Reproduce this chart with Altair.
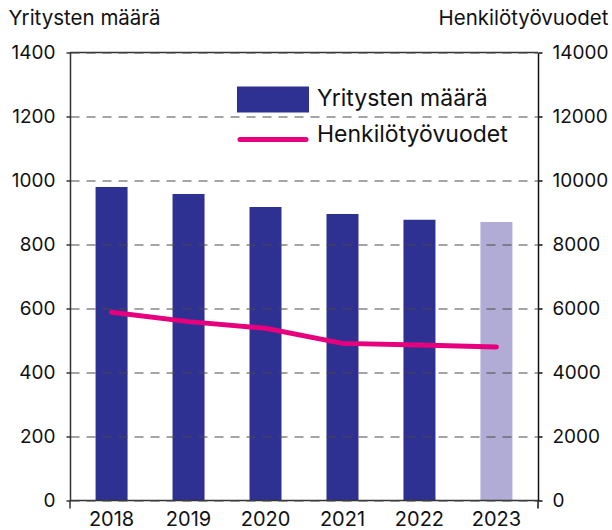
import altair as alt
import pandas as pd

vuodet = ["2018", "2019", "2020", "2021", "2022", "2023"]
yritysten_maara = [980, 958, 917, 895, 877, 870]
henkilotyovuodet = [5880, 5590, 5380, 4910, 4860, 4800]

legend_labels = ["Yritysten määrä", "Henkilötyövuodet"]

FONT = "Inter"
W, H = 468, 448

df = pd.DataFrame({"vuosi": vuodet, "yritykset": yritysten_maara, "htv": henkilotyovuodet})

x_enc = alt.X("vuosi:N", sort=vuodet,
              scale=alt.Scale(paddingInner=0, paddingOuter=0.04),
              axis=alt.Axis(title=None, labelAngle=0, ticks=False, domain=False,
                            labelFont=FONT, labelFontSize=20, labelColor="#111",
                            labelPadding=9, grid=False))

bars = alt.Chart(df).mark_bar(size=32).encode(
    x=x_enc,
    y=alt.Y("yritykset:Q",
            scale=alt.Scale(domain=[0, 1400], nice=False),
            axis=alt.Axis(values=[0, 200, 400, 600, 800, 1000, 1200, 1400], format="d",
                          title="Yritysten määrä", titleAngle=0, titleAlign="left",
                          titleBaseline="alphabetic", titleX=-62, titleY=-28,
                          titleFont=FONT, titleFontSize=20.5, titleFontWeight="normal",
                          titleColor="#111",
                          labelFont=FONT, labelFontSize=19, labelColor="#111",
                          labelPadding=11, tickSize=4, tickColor="#333", tickWidth=1.5,
                          domainColor="#333", domainWidth=1.5,
                          grid=True, gridDash=[9, 7], gridColor="#4a4a4a", gridWidth=1.2,
                          zindex=1)),
    color=alt.condition(alt.datum.vuosi == "2023", alt.value("#B0ACD6"), alt.value("#2E3192")),
)

line = alt.Chart(df).mark_line(color="#E6007E", strokeWidth=5, strokeCap="round").encode(
    x=alt.X("vuosi:N", sort=vuodet),
    y=alt.Y("htv:Q",
            scale=alt.Scale(domain=[0, 14000], nice=False),
            axis=alt.Axis(orient="right", format="d",
                          values=[0, 2000, 4000, 6000, 8000, 10000, 12000, 14000],
                          title="Henkilötyövuodet", titleAngle=0, titleAlign="right",
                          titleBaseline="alphabetic", titleX=70, titleY=-28,
                          titleFont=FONT, titleFontSize=20.5, titleFontWeight="normal",
                          titleColor="#111",
                          labelFont=FONT, labelFontSize=19, labelColor="#111",
                          labelPadding=10, tickSize=4, tickColor="#111", tickWidth=1.5,
                          domainColor="#111", domainWidth=1.5, grid=False)),
)

edge_df = pd.DataFrame({"v": [0, 1400]})
edges = alt.Chart(edge_df).mark_rule(color="#333", strokeWidth=1.5).encode(
    y=alt.Y("v:Q", scale=alt.Scale(domain=[0, 1400], nice=False), axis=None),
    x=alt.value(0), x2=alt.value(W),
)

one = pd.DataFrame({"k": [1]})
ext_left = alt.Chart(one).mark_rule(color="#333", strokeWidth=1.5).encode(
    x=alt.value(0), y=alt.value(H), y2=alt.value(H + 8))
ext_right = alt.Chart(one).mark_rule(color="#111", strokeWidth=1.5).encode(
    x=alt.value(W), y=alt.value(H), y2=alt.value(H + 8))

leg_df = pd.DataFrame({"label": legend_labels})
leg_rect = alt.Chart(one).mark_rect(color="#2E3192").encode(
    x=alt.value(167), x2=alt.value(239), y=alt.value(34), y2=alt.value(60))
leg_line = alt.Chart(one).mark_rule(color="#E6007E", strokeWidth=5, strokeCap="round").encode(
    x=alt.value(170), x2=alt.value(236), y=alt.value(87))
leg_text1 = alt.Chart(leg_df).transform_filter(alt.datum.label == legend_labels[0]).mark_text(
    font=FONT, fontSize=23, align="left", baseline="alphabetic", color="#111").encode(
    x=alt.value(247), y=alt.value(53.5), text="label:N")
leg_text2 = alt.Chart(leg_df).transform_filter(alt.datum.label == legend_labels[1]).mark_text(
    font=FONT, fontSize=23, align="left", baseline="alphabetic", color="#111").encode(
    x=alt.value(247), y=alt.value(89.5), text="label:N")

chart = alt.layer(bars, edges, ext_left, ext_right, line, leg_rect, leg_line,
                  leg_text1, leg_text2).resolve_scale(
    y="independent"
).properties(
    width=W, height=H,
    autosize=alt.AutoSizeParams(type="none"),
    padding={"left": 70, "top": 52.5, "right": 74, "bottom": 29.5},
).configure_view(stroke=None)

chart.save("out.html", embed_options={"renderer": "svg", "actions": False})
